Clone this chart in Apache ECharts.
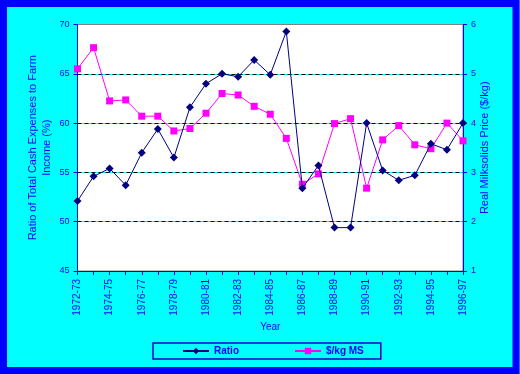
<!DOCTYPE html>
<html>
<head>
<meta charset="utf-8">
<script src="https://cdn.jsdelivr.net/npm/echarts@6/dist/echarts.min.js"></script>
<style>
html,body{margin:0;padding:0;background:#00FFFF;}
#chart{width:520px;height:374px;}
</style>
</head>
<body>
<div id="chart"></div>
<script>
var categories = ['1972-73','1973-74','1974-75','1975-76','1976-77','1977-78','1978-79','1979-80','1980-81','1981-82','1982-83','1983-84','1984-85','1985-86','1986-87','1987-88','1988-89','1989-90','1990-91','1991-92','1992-93','1993-94','1994-95','1995-96','1996-97'];
var ratio = [52.1,54.6,55.4,53.7,57.0,59.4,56.5,61.6,64.0,65.0,64.7,66.4,64.9,69.3,53.4,55.7,49.4,49.4,60.0,55.2,54.2,54.7,57.9,57.3,60.0];
var priceMS = [5.10,5.53,4.45,4.47,4.14,4.14,3.84,3.89,4.20,4.60,4.57,4.34,4.18,3.69,2.76,2.97,3.99,4.09,2.68,3.66,3.95,3.56,3.48,4.00,3.64];

var blue = '#0000FF';
var font = 'Liberation Sans, Arial, sans-serif';
var chart = echarts.init(document.getElementById('chart'));
chart.setOption({
  backgroundColor: '#00FFFF',
  animation: false,
  textStyle: {fontFamily: font},
  graphic: [{
    type: 'rect', z: 100, silent: true,
    shape: {x: 3.5, y: 3.5, width: 512.5, height: 367},
    style: {fill: null, stroke: '#0000FF', lineWidth: 7}
  }],
  grid: {left: 77.5, right: 57, top: 24.5, bottom: 103, show: true,
         backgroundColor: '#FFFFFF', borderColor: '#808080', borderWidth: 1},
  legend: {
    left: 153, top: 343,
    padding: [3, 17, 3, 29], itemGap: 55, itemWidth: 26, itemHeight: 8,
    borderColor: '#0000CC', borderWidth: 1.5,
    textStyle: {color: blue, fontSize: 10, fontFamily: font, fontWeight: 'bold'},
    data: ['Ratio', '$/kg MS']
  },
  xAxis: {
    type: 'category', data: categories, boundaryGap: false,
    name: 'Year', nameLocation: 'middle', nameGap: 51, nameMoveOverlap: false,
    nameTextStyle: {color: blue, fontSize: 10},
    axisLine: {lineStyle: {color: blue, width: 1}},
    axisTick: {show: true, interval: 0, length: 4, lineStyle: {color: blue}},
    axisLabel: {interval: 1, rotate: 90, color: blue, fontSize: 10, margin: 8},
    splitLine: {show: false}
  },
  yAxis: [{
    type: 'value', min: 45, max: 70, interval: 5, position: 'left', z: 1,
    name: 'Ratio of Total Cash Expenses to Farm\nIncome (%)',
    nameLocation: 'middle', nameGap: 24, nameRotate: 90, nameMoveOverlap: false,
    nameTextStyle: {color: blue, fontSize: 11, lineHeight: 14},
    axisLine: {show: true, lineStyle: {color: blue}},
    axisTick: {show: true, length: 4, lineStyle: {color: blue}},
    axisLabel: {color: blue, fontSize: 9, margin: 8},
    splitLine: {show: true, showMinLine: false, showMaxLine: false,
                lineStyle: {color: '#000000', type: [4, 3], width: 1}}
  }, {
    type: 'value', min: 1, max: 6, interval: 1, position: 'right', z: 0,
    name: 'Real Milksolids Price ($/kg)',
    nameLocation: 'middle', nameGap: 16, nameRotate: 90, nameMoveOverlap: false,
    nameTextStyle: {color: blue, fontSize: 11},
    axisLine: {show: true, lineStyle: {color: blue}},
    axisTick: {show: true, length: 4, lineStyle: {color: blue}},
    axisLabel: {color: blue, fontSize: 9, margin: 8},
    splitLine: {show: true, showMinLine: false, showMaxLine: false,
                lineStyle: {color: '#00FFFF', type: 'solid', width: 1}}
  }],
  series: [{
    name: 'Ratio', type: 'line', data: ratio, yAxisIndex: 0,
    symbol: 'diamond', symbolSize: 8, z: 3,
    lineStyle: {color: '#000080', width: 1},
    itemStyle: {color: '#000080'}
  }, {
    name: '$/kg MS', type: 'line', data: priceMS, yAxisIndex: 1,
    symbol: 'rect', symbolSize: 7, z: 2,
    lineStyle: {color: '#FF00FF', width: 1},
    itemStyle: {color: '#FF00FF'}
  }]
});
</script>
</body>
</html>
